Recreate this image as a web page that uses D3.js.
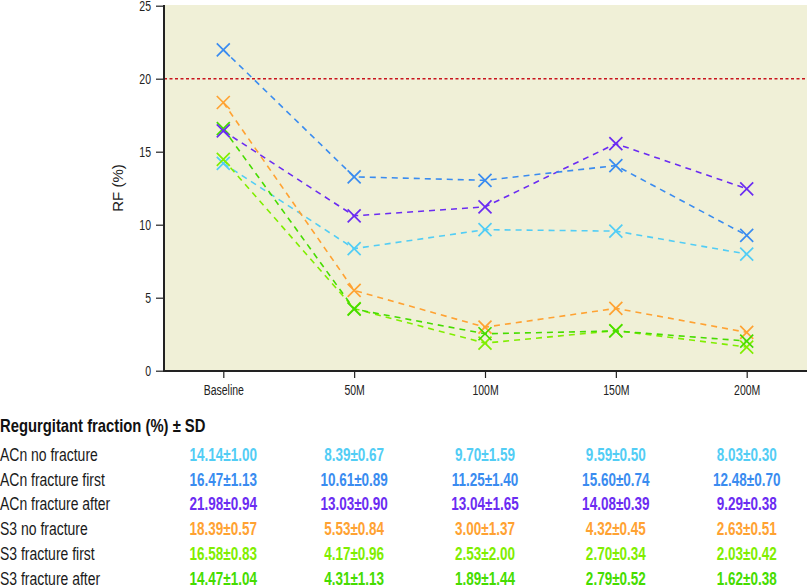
<!DOCTYPE html>
<html><head><meta charset="utf-8">
<script src="https://cdn.jsdelivr.net/npm/d3@7"></script>
<style>
body{margin:0;background:#fff;}
svg{display:block;}
text{font-family:"Liberation Sans",Arial,sans-serif;}
</style></head><body>
<svg id="c" width="807" height="585"></svg>
<script>
const categories = ["Baseline","50M","100M","150M","200M"];
const yTicks = [0,5,10,15,20,25];
const threshold = 20;

// plotted series
const plotBlue   = [21.98, 13.28, 13.04, 14.05, 9.27];
const plotPurple = [16.42, 10.61, 11.22, 15.55, 12.46];
const plotCyan   = [14.20, 8.36, 9.66, 9.56, 7.99];
const plotOrange = [18.37, 5.50, 2.98, 4.27, 2.63];
const plotGreen  = [16.58, 4.22, 2.53, 2.72, 2.03];
const plotLime   = [14.47, 4.25, 1.89, 2.75, 1.62];

// table
const tableTitle = "Regurgitant fraction (%) ± SD";
const rowLabels = ["ACn no fracture","ACn fracture first","ACn fracture after","S3 no fracture","S3 fracture first","S3 fracture after"];
const rowACnNo     = ["14.14±1.00","8.39±0.67","9.70±1.59","9.59±0.50","8.03±0.30"];
const rowACnFirst  = ["16.47±1.13","10.61±0.89","11.25±1.40","15.60±0.74","12.48±0.70"];
const rowACnAfter  = ["21.98±0.94","13.03±0.90","13.04±1.65","14.08±0.39","9.29±0.38"];
const rowS3No      = ["18.39±0.57","5.53±0.84","3.00±1.37","4.32±0.45","2.63±0.51"];
const rowS3First   = ["16.58±0.83","4.17±0.96","2.53±2.00","2.70±0.34","2.03±0.42"];
const rowS3After   = ["14.47±1.04","4.31±1.13","1.89±1.44","2.79±0.52","1.62±0.38"];

const C = {cyan:"#52cdf5", blue:"#3a8cf0", purple:"#6b2cf2", orange:"#ffa232", lime:"#80ee00", green:"#46dc00"};

const plotSeries = [
  {v:plotCyan, c:C.cyan},
  {v:plotOrange, c:C.orange},
  {v:plotLime, c:C.lime},
  {v:plotGreen, c:C.green},
  {v:plotPurple, c:C.purple},
  {v:plotBlue, c:C.blue}
];
const tableRows = [
  {v:rowACnNo, c:C.cyan},
  {v:rowACnFirst, c:C.blue},
  {v:rowACnAfter, c:C.purple},
  {v:rowS3No, c:C.orange},
  {v:rowS3First, c:C.lime},
  {v:rowS3After, c:C.green}
];

const SX = 0.75; // condensed look
const svg = d3.select("#c");
const pL = 164, pR = 807, pT = 5, pB = 371;
const x = d3.scalePoint().domain(categories).range([223.3, 746.7]);
const y = d3.scaleLinear().domain([0,25]).range([370.7, 5.7]);

function ctext(px, py, str, sx){
  return svg.append("text").attr("transform",`translate(${px},${py}) scale(${sx},1)`).text(str);
}

svg.append("rect").attr("x",pL).attr("y",pT).attr("width",pR-pL).attr("height",pB-pT).attr("fill","#f0f0d7");

// threshold
svg.append("line").attr("x1",pL).attr("x2",pR).attr("y1",y(threshold)).attr("y2",y(threshold))
  .attr("stroke","#c8141e").attr("stroke-width",1.6).attr("stroke-dasharray","3,2.5");

const line = d3.line().x((d,i)=>x(categories[i])).y(d=>y(d));
const g = svg.append("g");
plotSeries.forEach(s=>{
  g.append("path").attr("d",line(s.v)).attr("fill","none").attr("stroke",s.c)
   .attr("stroke-width",1.6).attr("stroke-dasharray","6,5");
  s.v.forEach((d,i)=>{
    const cx=x(categories[i]), cy=y(d), r=6.5;
    g.append("path").attr("d",`M${cx-r},${cy-r}L${cx+r},${cy+r}M${cx-r},${cy+r}L${cx+r},${cy-r}`)
     .attr("stroke",s.c).attr("stroke-width",1.7).attr("fill","none");
  });
});

// axes
const ya = svg.append("g").attr("transform",`translate(${pL},0)`)
  .call(d3.axisLeft(y).tickValues(yTicks).tickSize(8).tickPadding(5).tickSizeOuter(0));
const xa = svg.append("g").attr("transform",`translate(0,${pB})`)
  .call(d3.axisBottom(x).tickSize(7).tickPadding(7).tickSizeOuter(0));
[ya,xa].forEach(a=>{
  a.select(".domain").remove();
  a.selectAll(".tick line").attr("stroke","#222").attr("stroke-width",1.2);
  a.selectAll("text").attr("font-size",14).attr("fill","#222").attr("font-family",'"Liberation Sans",Arial,sans-serif')
    .each(function(){
      const t=d3.select(this); const ox=+t.attr("x")||0;
      t.attr("x", ox/SX).attr("transform",`scale(${SX},1)`);
    });
});
svg.append("line").attr("x1",pL).attr("x2",pL).attr("y1",pT).attr("y2",pB+1).attr("stroke","#222").attr("stroke-width",2);
svg.append("line").attr("x1",pL-1).attr("x2",pR).attr("y1",pB).attr("y2",pB).attr("stroke","#222").attr("stroke-width",2);

svg.append("text").attr("transform",`translate(123,188) rotate(-90)`).attr("text-anchor","middle")
  .attr("font-size",15).attr("fill","#222").text("RF (%)");

// table
ctext(0, 431.5, tableTitle, 0.8).attr("font-size",18.5).attr("font-weight","bold").attr("fill","#111");
tableRows.forEach((r,k)=>{
  const by = 460.8 + k*24.8;
  ctext(0, by, rowLabels[k], 0.756).attr("font-size",18.5).attr("fill","#1a1a1a");
  r.v.forEach((t,i)=>{
    ctext(x(categories[i]), by, t, 0.73).attr("text-anchor","middle")
      .attr("font-size",18.5).attr("font-weight","bold").attr("fill",r.c);
  });
});
</script></body></html>
